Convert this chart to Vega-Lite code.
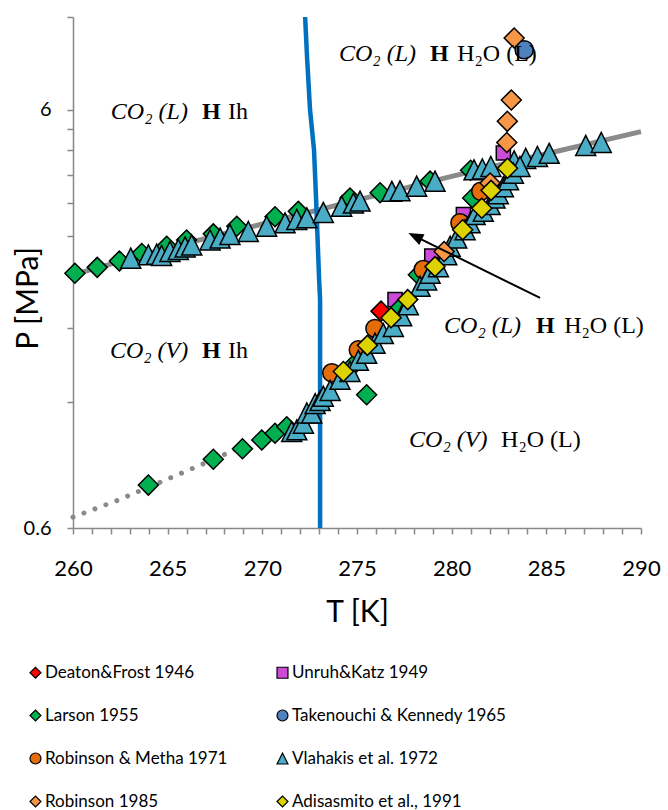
{
  "$schema": "https://vega.github.io/schema/vega-lite/v6.json",
  "width": 568,
  "height": 511,
  "autosize": {"type": "none"},
  "padding": {"left": 73, "top": 17, "right": 27, "bottom": 282},
  "background": "white",
  "config": {
    "view": {"stroke": null},
    "font": "Lato",
    "legend": {
      "columns": 2,
      "direction": "horizontal",
      "columnPadding": 46,
      "rowPadding": 25,
      "symbolSize": 120,
      "symbolStrokeColor": "black",
      "symbolStrokeWidth": 1.2,
      "labelFontSize": 17,
      "labelFont": "Lato",
      "labelColor": "#000000",
      "labelOffset": 1,
      "labelLimit": 400,
      "padding": 0,
      "gridAlign": "each"
    }
  },
  "datasets": {
    "vp": [
      {"T": 260, "P": 2.42}, {"T": 265, "P": 2.8}, {"T": 270, "P": 3.2}, {"T": 275, "P": 3.65},
      {"T": 280, "P": 4.16}, {"T": 285, "P": 4.71}, {"T": 290, "P": 5.32}
    ],
    "dots": [
      {"T": 260, "P": 0.637}, {"T": 262.4, "P": 0.7}, {"T": 264.75, "P": 0.777},
      {"T": 266.87, "P": 0.854}, {"T": 270, "P": 0.986}, {"T": 272.5, "P": 1.11}
    ],
    "melt": [
      {"T": 272.26, "P": 10}, {"T": 272.36, "P": 8.04}, {"T": 272.52, "P": 6.0},
      {"T": 272.73, "P": 4.81}, {"T": 272.84, "P": 3.66}, {"T": 273.0, "P": 2.35},
      {"T": 273.05, "P": 2.11}, {"T": 273.05, "P": 0.6}
    ],
    "pts": [
      {"src": "Deaton&Frost 1946", "T": 276.27, "P": 1.98},
      {"src": "Unruh&Katz 1949", "T": 277.01, "P": 2.11},
      {"src": "Unruh&Katz 1949", "T": 278.95, "P": 2.68},
      {"src": "Unruh&Katz 1949", "T": 280.62, "P": 3.37},
      {"src": "Unruh&Katz 1949", "T": 282.73, "P": 4.73},
      {"src": "Larson 1955", "T": 260.1, "P": 2.44},
      {"src": "Larson 1955", "T": 261.28, "P": 2.52},
      {"src": "Larson 1955", "T": 262.45, "P": 2.61},
      {"src": "Larson 1955", "T": 263.63, "P": 2.72},
      {"src": "Larson 1955", "T": 264.95, "P": 2.83},
      {"src": "Larson 1955", "T": 266.0, "P": 2.93},
      {"src": "Larson 1955", "T": 267.41, "P": 3.03},
      {"src": "Larson 1955", "T": 268.65, "P": 3.16},
      {"src": "Larson 1955", "T": 270.67, "P": 3.33},
      {"src": "Larson 1955", "T": 271.9, "P": 3.43},
      {"src": "Larson 1955", "T": 274.63, "P": 3.69},
      {"src": "Larson 1955", "T": 276.22, "P": 3.8},
      {"src": "Larson 1955", "T": 278.86, "P": 4.05},
      {"src": "Larson 1955", "T": 281.0, "P": 4.3},
      {"src": "Larson 1955", "T": 263.98, "P": 0.76},
      {"src": "Larson 1955", "T": 267.41, "P": 0.876},
      {"src": "Larson 1955", "T": 268.95, "P": 0.928},
      {"src": "Larson 1955", "T": 269.97, "P": 0.974},
      {"src": "Larson 1955", "T": 270.67, "P": 1.011},
      {"src": "Larson 1955", "T": 271.29, "P": 1.048},
      {"src": "Larson 1955", "T": 275.51, "P": 1.25},
      {"src": "Larson 1955", "T": 274.8, "P": 1.47},
      {"src": "Larson 1955", "T": 277.3, "P": 2.02},
      {"src": "Larson 1955", "T": 278.24, "P": 2.42},
      {"src": "Larson 1955", "T": 281.11, "P": 3.69},
      {"src": "Takenouchi & Kennedy  1965", "T": 283.83, "P": 8.35},
      {"src": "Robinson & Metha 1971", "T": 273.67, "P": 1.41},
      {"src": "Robinson & Metha 1971", "T": 275.07, "P": 1.6},
      {"src": "Robinson & Metha 1971", "T": 275.95, "P": 1.8},
      {"src": "Robinson & Metha 1971", "T": 278.5, "P": 2.49},
      {"src": "Robinson & Metha 1971", "T": 280.44, "P": 3.22},
      {"src": "Robinson & Metha 1971", "T": 281.54, "P": 3.83},
      {"src": "Vlahakis et al.  1972", "T": 263.05, "P": 2.65},
      {"src": "Vlahakis et al.  1972", "T": 263.98, "P": 2.7},
      {"src": "Vlahakis et al.  1972", "T": 264.42, "P": 2.71},
      {"src": "Vlahakis et al.  1972", "T": 264.68, "P": 2.69},
      {"src": "Vlahakis et al.  1972", "T": 265.12, "P": 2.75},
      {"src": "Vlahakis et al.  1972", "T": 265.56, "P": 2.78},
      {"src": "Vlahakis et al.  1972", "T": 265.92, "P": 2.82},
      {"src": "Vlahakis et al.  1972", "T": 266.27, "P": 2.85},
      {"src": "Vlahakis et al.  1972", "T": 267.24, "P": 2.93},
      {"src": "Vlahakis et al.  1972", "T": 267.77, "P": 2.96},
      {"src": "Vlahakis et al.  1972", "T": 268.29, "P": 3.02},
      {"src": "Vlahakis et al.  1972", "T": 269.26, "P": 3.07},
      {"src": "Vlahakis et al.  1972", "T": 270.23, "P": 3.16},
      {"src": "Vlahakis et al.  1972", "T": 271.2, "P": 3.22},
      {"src": "Vlahakis et al.  1972", "T": 271.82, "P": 3.28},
      {"src": "Vlahakis et al.  1972", "T": 272.35, "P": 3.31},
      {"src": "Vlahakis et al.  1972", "T": 273.22, "P": 3.41},
      {"src": "Vlahakis et al.  1972", "T": 274.19, "P": 3.53},
      {"src": "Vlahakis et al.  1972", "T": 274.81, "P": 3.59},
      {"src": "Vlahakis et al.  1972", "T": 275.16, "P": 3.63},
      {"src": "Vlahakis et al.  1972", "T": 276.84, "P": 3.83},
      {"src": "Vlahakis et al.  1972", "T": 277.27, "P": 3.84},
      {"src": "Vlahakis et al.  1972", "T": 278.15, "P": 3.94},
      {"src": "Vlahakis et al.  1972", "T": 279.12, "P": 4.05},
      {"src": "Vlahakis et al.  1972", "T": 281.18, "P": 4.31},
      {"src": "Vlahakis et al.  1972", "T": 281.62, "P": 4.33},
      {"src": "Vlahakis et al.  1972", "T": 282.07, "P": 4.39},
      {"src": "Vlahakis et al.  1972", "T": 283.3, "P": 4.53},
      {"src": "Vlahakis et al.  1972", "T": 283.91, "P": 4.59},
      {"src": "Vlahakis et al.  1972", "T": 284.53, "P": 4.64},
      {"src": "Vlahakis et al.  1972", "T": 285.15, "P": 4.72},
      {"src": "Vlahakis et al.  1972", "T": 287.08, "P": 4.93},
      {"src": "Vlahakis et al.  1972", "T": 287.9, "P": 5.01},
      {"src": "Vlahakis et al.  1972", "T": 271.55, "P": 1.02},
      {"src": "Vlahakis et al.  1972", "T": 271.82, "P": 1.03},
      {"src": "Vlahakis et al.  1972", "T": 272.17, "P": 1.068},
      {"src": "Vlahakis et al.  1972", "T": 272.35, "P": 1.13},
      {"src": "Vlahakis et al.  1972", "T": 272.61, "P": 1.13},
      {"src": "Vlahakis et al.  1972", "T": 272.79, "P": 1.19},
      {"src": "Vlahakis et al.  1972", "T": 273.05, "P": 1.21},
      {"src": "Vlahakis et al.  1972", "T": 273.22, "P": 1.24},
      {"src": "Vlahakis et al.  1972", "T": 273.58, "P": 1.28},
      {"src": "Vlahakis et al.  1972", "T": 274.1, "P": 1.36},
      {"src": "Vlahakis et al.  1972", "T": 274.63, "P": 1.42},
      {"src": "Vlahakis et al.  1972", "T": 275.07, "P": 1.51},
      {"src": "Vlahakis et al.  1972", "T": 275.51, "P": 1.57},
      {"src": "Vlahakis et al.  1972", "T": 275.95, "P": 1.66},
      {"src": "Vlahakis et al.  1972", "T": 276.39, "P": 1.75},
      {"src": "Vlahakis et al.  1972", "T": 276.92, "P": 1.82},
      {"src": "Vlahakis et al.  1972", "T": 277.36, "P": 1.93},
      {"src": "Vlahakis et al.  1972", "T": 277.71, "P": 2.05},
      {"src": "Vlahakis et al.  1972", "T": 278.33, "P": 2.27},
      {"src": "Vlahakis et al.  1972", "T": 278.68, "P": 2.35},
      {"src": "Vlahakis et al.  1972", "T": 278.86, "P": 2.44},
      {"src": "Vlahakis et al.  1972", "T": 279.3, "P": 2.53},
      {"src": "Vlahakis et al.  1972", "T": 279.74, "P": 2.7},
      {"src": "Vlahakis et al.  1972", "T": 279.92, "P": 2.83},
      {"src": "Vlahakis et al.  1972", "T": 280.27, "P": 2.96},
      {"src": "Vlahakis et al.  1972", "T": 280.71, "P": 3.1},
      {"src": "Vlahakis et al.  1972", "T": 280.97, "P": 3.22},
      {"src": "Vlahakis et al.  1972", "T": 281.24, "P": 3.37},
      {"src": "Vlahakis et al.  1972", "T": 281.67, "P": 3.43},
      {"src": "Vlahakis et al.  1972", "T": 282.03, "P": 3.56},
      {"src": "Vlahakis et al.  1972", "T": 282.29, "P": 3.69},
      {"src": "Vlahakis et al.  1972", "T": 282.46, "P": 3.78},
      {"src": "Vlahakis et al.  1972", "T": 282.73, "P": 3.93},
      {"src": "Vlahakis et al.  1972", "T": 283.0, "P": 4.08},
      {"src": "Vlahakis et al.  1972", "T": 283.26, "P": 4.23},
      {"src": "Vlahakis et al.  1972", "T": 283.61, "P": 4.39},
      {"src": "Robinson 1985", "T": 279.6, "P": 2.75},
      {"src": "Robinson 1985", "T": 282.03, "P": 4.01},
      {"src": "Robinson 1985", "T": 282.91, "P": 5.01},
      {"src": "Robinson 1985", "T": 282.94, "P": 5.63},
      {"src": "Robinson 1985", "T": 283.15, "P": 6.33},
      {"src": "Robinson 1985", "T": 283.3, "P": 8.91},
      {"src": "Adisasmito et al., 1991", "T": 274.28, "P": 1.42},
      {"src": "Adisasmito et al., 1991", "T": 275.55, "P": 1.64},
      {"src": "Adisasmito et al., 1991", "T": 276.8, "P": 1.91},
      {"src": "Adisasmito et al., 1991", "T": 277.68, "P": 2.11},
      {"src": "Adisasmito et al., 1991", "T": 279.12, "P": 2.53},
      {"src": "Adisasmito et al., 1991", "T": 280.58, "P": 3.1},
      {"src": "Adisasmito et al., 1991", "T": 281.59, "P": 3.49},
      {"src": "Adisasmito et al., 1991", "T": 282.08, "P": 3.85},
      {"src": "Adisasmito et al., 1991", "T": 282.95, "P": 4.35}
    ],
    "arrow": [{"T": 284.67, "P": 2.13, "T2": 278.07, "P2": 2.99}],
    "head": [{"T": 278.07, "P": 2.99}],
    "italic": [
      {"T": 262.0, "P": 5.71, "txt": "CO₂ (L)"},
      {"T": 274.05, "P": 7.86, "txt": "CO₂ (L)"},
      {"T": 261.95, "P": 1.531, "txt": "CO₂ (V)"},
      {"T": 279.6, "P": 1.757, "txt": "CO₂ (L)"},
      {"T": 277.75, "P": 0.9375, "txt": "CO₂ (V)"}
    ],
    "bold": [
      {"T": 266.81, "P": 5.71, "txt": "H"},
      {"T": 278.86, "P": 7.86, "txt": "H"},
      {"T": 266.81, "P": 1.531, "txt": "H"},
      {"T": 284.46, "P": 1.757, "txt": "H"}
    ],
    "regular": [
      {"T": 268.19, "P": 5.71, "txt": "Ih"},
      {"T": 280.29, "P": 7.86, "txt": "H₂O (L)"},
      {"T": 268.19, "P": 1.531, "txt": "Ih"},
      {"T": 285.94, "P": 1.757, "txt": "H₂O (L)"},
      {"T": 282.61, "P": 0.9375, "txt": "H₂O (L)"}
    ]
  },
  "encoding": {
    "x": {
      "field": "T", "type": "quantitative",
      "scale": {"domain": [260, 290], "nice": false, "zero": false},
      "axis": {
        "values": [260,261,262,263,264,265,266,267,268,269,270,271,272,273,274,275,276,277,278,279,280,281,282,283,284,285,286,287,288,289,290],
        "format": "d",
        "labelExpr": "datum.value % 5 === 0 ? datum.label : ''",
        "title": "T [K]", "grid": false, "labelFlush": false, "labelOverlap": false,
        "labelFontSize": 22, "labelFont": "Lato", "labelColor": "#000000", "labelPadding": 24,
        "tickSize": 6, "tickColor": "#888888", "tickWidth": 1.5,
        "domainColor": "#888888", "domainWidth": 1.5,
        "titleFontSize": 30, "titleFont": "Lato", "titleFontWeight": "normal", "titleColor": "#000000",
        "titleX": 284, "titleY": 84, "titleBaseline": "middle", "titleAlign": "center"
      }
    },
    "y": {
      "field": "P", "type": "quantitative",
      "scale": {"type": "log", "domain": [0.6, 10], "nice": false},
      "axis": {
        "values": [0.6, 1.2, 1.8, 2.4, 3, 3.6, 4.2, 4.8, 5.4, 6, 10],
        "labelExpr": "datum.value == 0.6 ? '0.6' : (datum.value == 6 ? '6' : '')",
        "title": "P [MPa]", "grid": false, "labelFlush": false, "labelOverlap": false,
        "labelFontSize": 20, "labelFont": "Lato", "labelColor": "#000000", "labelPadding": 16,
        "tickSize": 6, "tickColor": "#888888", "tickWidth": 1.5,
        "domainColor": "#888888", "domainWidth": 1.5,
        "titleFontSize": 30, "titleFont": "Lato", "titleFontWeight": "normal", "titleColor": "#000000",
        "titleX": -45, "titleY": 281, "titleAngle": 270, "titleBaseline": "middle", "titleAlign": "center"
      }
    }
  },
  "layer": [
    {
      "data": {"name": "vp"},
      "mark": {"type": "line", "color": "#8a8a8a", "strokeWidth": 5},
      "encoding": {}
    },
    {
      "data": {"name": "dots"},
      "mark": {"type": "line", "color": "#8a8a8a", "strokeWidth": 5, "strokeDash": [0.01, 11.7], "strokeCap": "round"},
      "encoding": {}
    },
    {
      "data": {"name": "melt"},
      "mark": {"type": "line", "color": "#0070C0", "strokeWidth": 4.5},
      "encoding": {"order": {"field": "P", "type": "quantitative", "sort": "descending"}}
    },
    {
      "data": {"name": "pts"},
      "mark": {"type": "point", "filled": true, "opacity": 1, "stroke": "black", "strokeWidth": 1.5},
      "encoding": {
        "color": {
          "field": "src",
          "type": "nominal",
          "scale": {
            "domain": ["Deaton&Frost 1946", "Unruh&Katz 1949", "Larson 1955", "Takenouchi & Kennedy  1965", "Robinson & Metha 1971", "Vlahakis et al.  1972", "Robinson 1985", "Adisasmito et al., 1991"],
            "range": ["#FF0000", "#CC4BD6", "#00B050", "#4F81BD", "#E46C0A", "#4BACC6", "#F79646", "#DDD300"]
          },
          "legend": {
            "title": null,
            "orient": "none",
            "legendX": -46,
            "legendY": 647,
            "direction": "horizontal",
            "columns": 2,
            "encode": {
              "symbols": {
                "update": {
                  "size": {"signal": "indexof(['Deaton&Frost 1946','Larson 1955','Robinson 1985','Adisasmito et al., 1991'], datum.value) >= 0 ? 170 : (datum.value === 'Unruh&Katz 1949' ? 100 : 120)"}
                }
              }
            }
          }
        },
        "shape": {
          "field": "src",
          "type": "nominal",
          "scale": {
            "domain": ["Deaton&Frost 1946", "Unruh&Katz 1949", "Larson 1955", "Takenouchi & Kennedy  1965", "Robinson & Metha 1971", "Vlahakis et al.  1972", "Robinson 1985", "Adisasmito et al., 1991"],
            "range": ["diamond", "square", "diamond", "circle", "circle", "M0,-1L1,1L-1,1Z", "diamond", "diamond"]
          },
          "legend": {
            "title": null,
            "orient": "none",
            "legendX": -46,
            "legendY": 647,
            "direction": "horizontal",
            "columns": 2,
            "encode": {
              "symbols": {
                "update": {
                  "size": {"signal": "indexof(['Deaton&Frost 1946','Larson 1955','Robinson 1985','Adisasmito et al., 1991'], datum.value) >= 0 ? 170 : (datum.value === 'Unruh&Katz 1949' ? 100 : 120)"}
                }
              }
            }
          }
        },
        "size": {
          "condition": [
            {"test": "datum.src === 'Unruh&Katz 1949'", "value": 200},
            {"test": "datum.src === 'Takenouchi & Kennedy  1965' || datum.src === 'Robinson & Metha 1971'", "value": 330}
          ],
          "value": 400
        }
      }
    },
    {
      "data": {"name": "arrow"},
      "mark": {"type": "rule", "color": "black", "strokeWidth": 2},
      "encoding": {"x2": {"field": "T2"}, "y2": {"field": "P2"}}
    },
    {
      "data": {"name": "head"},
      "mark": {"type": "point", "shape": "M0,-1L0.8,1L-0.8,1Z", "filled": true, "color": "black", "opacity": 1, "size": 225, "angle": 296}
    },
    {
      "data": {"name": "italic"},
      "mark": {"type": "text", "font": "Liberation Serif", "fontSize": 24, "fontStyle": "italic", "align": "left", "baseline": "alphabetic", "color": "black"},
      "encoding": {"text": {"field": "txt"}}
    },
    {
      "data": {"name": "bold"},
      "mark": {"type": "text", "font": "Liberation Serif", "fontSize": 24, "fontWeight": "bold", "align": "left", "baseline": "alphabetic", "color": "black"},
      "encoding": {"text": {"field": "txt"}}
    },
    {
      "data": {"name": "regular"},
      "mark": {"type": "text", "font": "Liberation Serif", "fontSize": 24, "align": "left", "baseline": "alphabetic", "color": "black"},
      "encoding": {"text": {"field": "txt"}}
    }
  ]
}
